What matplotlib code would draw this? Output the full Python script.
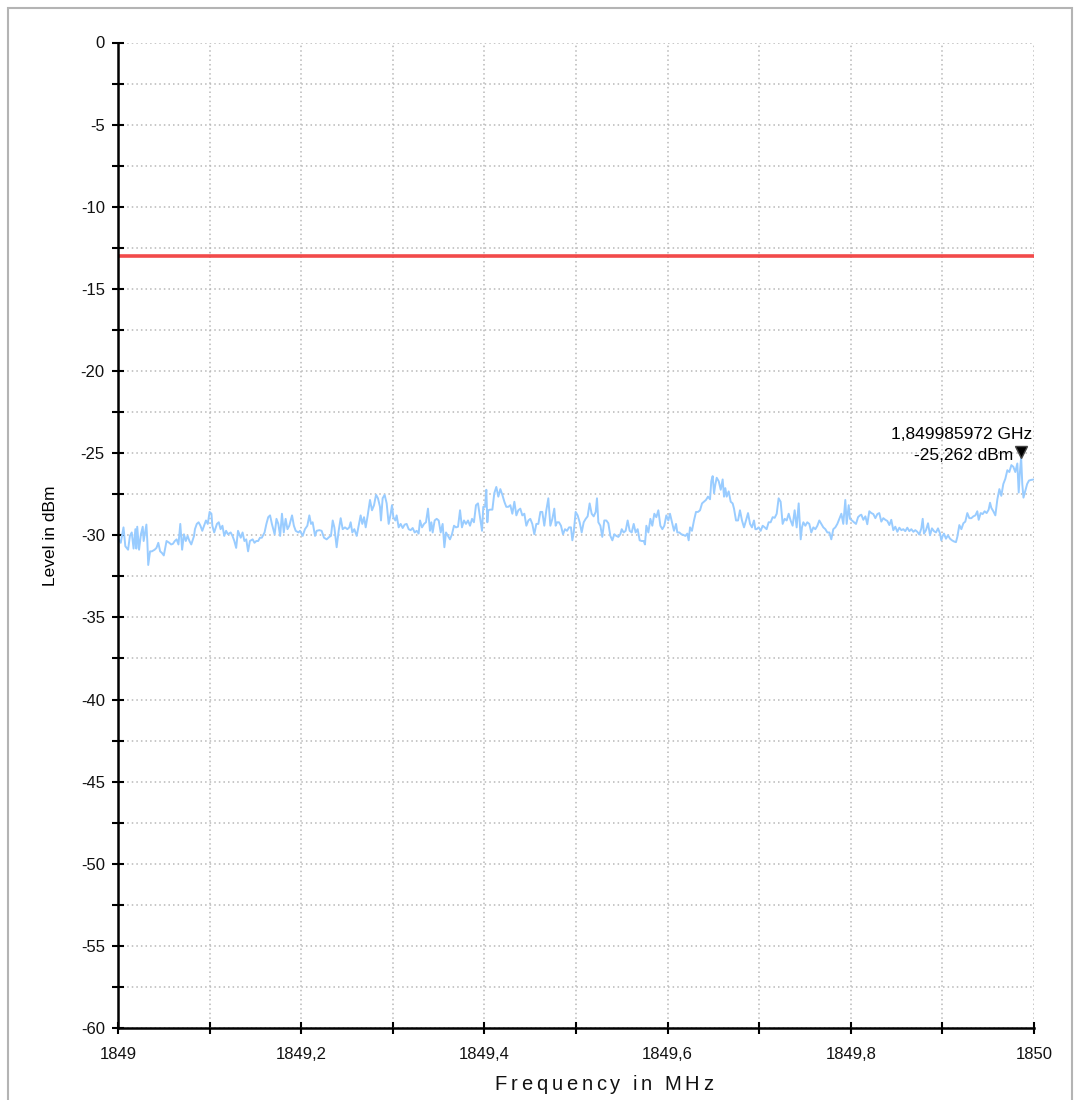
import matplotlib
matplotlib.use("Agg")
import matplotlib.pyplot as plt
from matplotlib.ticker import MultipleLocator, FuncFormatter
from matplotlib.patches import Rectangle
import matplotlib.transforms as mtransforms

plt.rcParams['font.family'] = ['Liberation Sans', 'DejaVu Sans']

# ---------------- data ----------------
f_start = 1849.0  # MHz
freq_offset_mhz = [
    0.000, 0.001, 0.003, 0.006, 0.008, 0.011, 0.013, 0.015, 0.017, 0.019, 0.020,
    0.021, 0.023, 0.025, 0.027, 0.028, 0.031, 0.032, 0.033, 0.035, 0.037,
    0.040, 0.042, 0.044, 0.046, 0.048, 0.050, 0.053, 0.056, 0.058, 0.060,
    0.062, 0.064, 0.066, 0.068, 0.070, 0.072, 0.074, 0.076, 0.078, 0.080,
    0.083, 0.084, 0.086, 0.088, 0.090, 0.092, 0.094, 0.096, 0.098, 0.100,
    0.102, 0.103, 0.105, 0.108, 0.110, 0.112, 0.114, 0.116, 0.118, 0.120,
    0.123, 0.125, 0.127, 0.129, 0.131, 0.134, 0.136, 0.138, 0.140, 0.142,
    0.144, 0.147, 0.149, 0.151, 0.153, 0.155, 0.157, 0.160, 0.162, 0.164,
    0.166, 0.168, 0.171, 0.173, 0.175, 0.177, 0.179, 0.181, 0.183, 0.185,
    0.187, 0.190, 0.192, 0.194, 0.197,
    0.1987, 0.2016, 0.2041, 0.2067, 0.2089, 0.2107, 0.2125, 0.2151, 0.2169,
    0.2198, 0.2223, 0.2249, 0.2278, 0.2307, 0.2325, 0.2344, 0.2362, 0.2387,
    0.2409, 0.2431, 0.2453, 0.2478, 0.2504, 0.2525, 0.2540, 0.2558, 0.2580,
    0.2606, 0.2627, 0.2649, 0.2667, 0.2686, 0.2704, 0.2726, 0.2751, 0.2773,
    0.2795, 0.2817, 0.2838, 0.2860, 0.2871, 0.2889, 0.2911, 0.2933, 0.2955,
    0.2977, 0.2991, 0.3006, 0.3028, 0.3042, 0.3064, 0.3086, 0.3108, 0.3130,
    0.3151, 0.3173, 0.3195, 0.3217, 0.3239, 0.3261, 0.3282, 0.3297, 0.3319,
    0.3341, 0.3362, 0.3384, 0.3406, 0.3421, 0.3435, 0.3457, 0.3479, 0.3501,
    0.3523, 0.3544, 0.3563, 0.3581, 0.3603, 0.3624, 0.3646, 0.3668, 0.3690,
    0.3712, 0.3734, 0.3755, 0.3777, 0.3799, 0.3821, 0.3843, 0.3865, 0.3886,
    0.3908, 0.3930, 0.3952, 0.3974, 0.3988,
    0.4007, 0.4021, 0.4032, 0.4043, 0.4061, 0.4087, 0.4108, 0.4130, 0.4152,
    0.4174, 0.4196, 0.4218, 0.4239, 0.4261, 0.4283, 0.4305, 0.4327, 0.4349,
    0.4370, 0.4392, 0.4414, 0.4436, 0.4458, 0.4480, 0.4501, 0.4523, 0.4545,
    0.4567, 0.4589, 0.4611, 0.4632, 0.4654, 0.4676, 0.4698, 0.4720, 0.4742,
    0.4763, 0.4778, 0.4793, 0.4814, 0.4836, 0.4858, 0.4880, 0.4902, 0.4924,
    0.4945, 0.4960, 0.4975, 0.4996, 0.5018, 0.5040, 0.5062, 0.5084, 0.5106,
    0.5127, 0.5149, 0.5171, 0.5193, 0.5215, 0.5229, 0.5244, 0.5266, 0.5287,
    0.5309, 0.5331, 0.5353, 0.5375, 0.5397, 0.5418, 0.5440, 0.5462, 0.5484,
    0.5499, 0.5520, 0.5542, 0.5564, 0.5586, 0.5608, 0.5630, 0.5651, 0.5673,
    0.5695, 0.5717, 0.5739, 0.5753, 0.5768, 0.5790, 0.5812, 0.5833, 0.5855,
    0.5877, 0.5899, 0.5921, 0.5943, 0.5964, 0.5986, 0.6008,
    0.6026, 0.6048, 0.6070, 0.6092, 0.6106, 0.6128, 0.6150, 0.6172, 0.6194,
    0.6215, 0.6230, 0.6245, 0.6266, 0.6288, 0.6310, 0.6332, 0.6354, 0.6376,
    0.6397, 0.6419, 0.6441, 0.6463, 0.6477, 0.6492, 0.6507, 0.6521, 0.6536,
    0.6558, 0.6580, 0.6601, 0.6616, 0.6630, 0.6645, 0.6667, 0.6689, 0.6710,
    0.6725, 0.6747, 0.6769, 0.6790, 0.6812, 0.6834, 0.6856, 0.6878, 0.6900,
    0.6921, 0.6943, 0.6958, 0.6972, 0.6994, 0.7016, 0.7038, 0.7060, 0.7081,
    0.7103, 0.7125, 0.7147, 0.7169, 0.7191, 0.7212, 0.7234, 0.7256, 0.7278,
    0.7300, 0.7322, 0.7343, 0.7365, 0.7387, 0.7409, 0.7431, 0.7453, 0.7467,
    0.7482, 0.7504, 0.7525, 0.7547, 0.7569, 0.7591, 0.7613, 0.7635, 0.7656,
    0.7678, 0.7700, 0.7722, 0.7744, 0.7766, 0.7787, 0.7809, 0.7831, 0.7853,
    0.7875, 0.7897, 0.7918, 0.7940, 0.7955, 0.7977, 0.7991, 0.8013, 0.8035,
    0.8057, 0.8079, 0.8100,
    0.8115, 0.8137, 0.8159, 0.8180, 0.8202, 0.8224, 0.8246, 0.8268, 0.8290,
    0.8311, 0.8333, 0.8355, 0.8377, 0.8399, 0.8421, 0.8442, 0.8464, 0.8486,
    0.8508, 0.8530, 0.8552, 0.8573, 0.8595, 0.8617, 0.8639, 0.8661, 0.8683,
    0.8704, 0.8726, 0.8748, 0.8770, 0.8785, 0.8799, 0.8821, 0.8843, 0.8865,
    0.8886, 0.8908, 0.8930, 0.8952, 0.8974, 0.8988, 0.9003, 0.9017, 0.9039,
    0.9061, 0.9083, 0.9105, 0.9127, 0.9148, 0.9163, 0.9185, 0.9207, 0.9229,
    0.9250, 0.9272, 0.9294, 0.9316, 0.9338, 0.9360, 0.9381, 0.9396, 0.9418,
    0.9440, 0.9461, 0.9483, 0.9505, 0.9520, 0.9534, 0.9556, 0.9578, 0.9600,
    0.9622, 0.9643, 0.9665, 0.9687, 0.9709, 0.9731, 0.9753, 0.9774, 0.9796,
    0.9818, 0.9833, 0.9845, 0.98597, 0.9872, 0.9885, 0.9905, 0.9925, 0.9945,
    0.9970, 1.0000,
]
level_dbm = [
    -30.20, -30.25, -30.46, -29.52, -30.67, -30.88, -30.04, -29.83, -30.81, -29.63, -30.81,
    -29.48, -30.88, -29.94, -29.48, -30.35, -29.35, -30.35, -31.81, -30.98, -30.98,
    -30.88, -30.77, -30.46, -30.98, -31.08, -31.23, -30.35, -30.46, -30.56, -30.52,
    -30.35, -30.25, -30.56, -29.31, -30.88, -29.94, -30.35, -30.04, -30.35, -30.56,
    -30.04, -29.63, -29.31, -29.21, -29.42, -29.73, -29.42, -29.10, -29.31, -28.58,
    -28.69, -29.42, -29.83, -29.31, -29.21, -29.63, -29.42, -30.04, -29.73, -29.94,
    -29.83, -30.04, -30.35, -30.77, -29.73, -30.15, -29.83, -30.35, -30.25, -30.98,
    -30.35, -30.25, -30.46, -30.35, -30.35, -30.15, -30.15, -29.83, -29.31, -28.90,
    -28.79, -29.31, -29.94, -29.00, -29.31, -30.04, -28.69, -29.83, -29.00, -29.63,
    -29.42, -28.79, -29.42, -29.73, -29.83,
    -29.73, -30.04, -29.63, -29.42, -28.79, -29.31, -29.21, -30.04, -29.73,
    -29.69, -29.73, -30.15, -30.25, -30.10, -30.04, -29.10, -29.52, -30.73,
    -29.73, -28.96, -29.63, -29.52, -29.63, -29.52, -29.21, -29.83, -29.63,
    -30.04, -29.42, -28.79, -29.31, -28.90, -29.52, -28.79, -27.85, -28.48,
    -28.17, -27.54, -27.75, -28.27, -29.10, -27.75, -27.54, -28.06, -29.31,
    -28.69, -28.17, -28.90, -29.10, -28.79, -29.52, -29.31, -29.56, -29.35,
    -29.31, -29.63, -29.69, -29.56, -29.83, -29.73, -29.90, -29.10, -29.52,
    -29.31, -29.21, -28.38, -29.73, -29.21, -29.83, -29.10, -29.00, -29.10,
    -29.83, -29.31, -30.73, -29.83, -30.04, -30.25, -29.94, -29.42, -29.52,
    -29.48, -28.48, -29.52, -29.10, -29.31, -29.10, -29.42, -29.00, -29.21,
    -28.17, -28.06, -28.90, -29.73, -28.27,
    -28.27, -27.23, -29.21, -28.48, -28.44, -28.44, -27.44, -27.06, -27.65,
    -27.19, -27.54, -27.96, -28.27, -28.27, -28.17, -28.69, -27.96, -28.79,
    -28.48, -28.38, -28.79, -28.69, -29.42, -29.10, -29.00, -29.31, -29.94,
    -29.31, -29.31, -28.58, -28.58, -29.42, -28.48, -27.75, -29.42, -29.00,
    -28.38, -29.42, -29.21, -29.21, -29.42, -29.94, -29.63, -29.73, -29.52,
    -29.52, -30.31, -29.83, -28.58, -28.79, -29.21, -29.83, -29.21, -29.00,
    -28.85, -28.06, -28.69, -28.85, -28.58, -27.75, -29.21, -29.42, -30.10,
    -29.10, -29.10, -29.27, -30.04, -30.31, -29.94, -30.04, -30.10, -29.94,
    -29.63, -29.83, -29.73, -29.10, -29.73, -29.83, -29.31, -29.83, -29.63,
    -30.31, -30.35, -30.35, -30.56, -29.42, -29.83, -29.00, -29.42, -28.69,
    -28.90, -28.48, -29.42, -29.63, -29.42, -28.79, -29.10,
    -28.69, -29.21, -29.73, -29.31, -29.83, -29.83, -29.94, -29.98, -30.04,
    -29.90, -30.31, -29.52, -29.73, -29.10, -28.58, -28.58, -28.48, -28.06,
    -27.96, -27.85, -27.65, -27.81, -26.71, -26.40, -27.44, -26.92, -26.50,
    -26.71, -27.23, -26.60, -27.65, -27.13, -27.65, -27.33, -27.96, -28.06,
    -28.38, -29.10, -29.10, -28.48, -29.10, -29.52, -29.10, -28.65, -29.31,
    -29.52, -29.10, -29.63, -29.63, -29.52, -29.73, -29.42, -29.52, -29.63,
    -29.21, -29.21, -28.90, -28.94, -28.69, -27.75, -27.96, -29.31, -29.00,
    -29.10, -28.69, -29.10, -29.42, -28.48, -29.52, -28.06, -30.25, -29.52,
    -29.21, -29.42, -29.21, -29.31, -29.83, -29.52, -29.63, -29.42, -29.10,
    -29.31, -29.52, -29.63, -29.83, -29.83, -30.25, -29.63, -29.52, -29.31,
    -29.00, -28.69, -29.31, -27.85, -29.31, -28.17, -29.00, -29.10, -29.21,
    -29.31, -28.90, -28.79,
    -28.75, -29.06, -28.85, -29.33, -28.54, -28.65, -28.71, -28.96, -28.71,
    -28.65, -29.17, -28.96, -29.06, -29.13, -29.38, -29.06, -29.69, -29.48,
    -29.79, -29.54, -29.69, -29.63, -29.75, -29.54, -29.75, -29.63, -29.79,
    -29.69, -29.79, -29.96, -29.58, -29.00, -29.90, -29.69, -29.27, -30.00,
    -29.58, -29.75, -29.83, -29.58, -29.90, -30.31, -30.04, -29.90, -30.21,
    -30.00, -30.21, -30.31, -30.38, -30.42, -30.10, -29.38, -29.63, -29.27,
    -29.17, -28.65, -28.96, -28.96, -28.85, -28.79, -28.54, -29.06, -28.65,
    -28.71, -28.54, -28.65, -28.44, -28.02, -28.33, -28.54, -28.79, -27.81,
    -27.19, -27.60, -26.88, -26.56, -26.04, -26.15, -25.73, -25.83, -26.15,
    -25.63, -27.40, -26.25, -25.262, -26.88, -27.71, -27.29, -26.88, -26.67,
    -26.63, -26.60,
]
limit_dbm = -13.0
peak_freq_mhz = 1849.985972
peak_level_dbm = -25.262
peak_label_freq = "1,849985972 GHz"
peak_label_level = "-25,262 dBm"
x_label = "Frequency in MHz"
y_label = "Level in dBm"

freq_mhz = [f_start + v for v in freq_offset_mhz]

# ---------------- figure ----------------
W, H = 1074, 1100
fig = plt.figure(figsize=(W / 100, H / 100), dpi=100)
fig.patch.set_facecolor('white')

# outer frame
fig.add_artist(Rectangle((8 / W, -0.01), (1072 - 8) / W, (H - 8) / H + 0.01,
                         transform=fig.transFigure, fill=False,
                         edgecolor='#b4b4b4', linewidth=1.5))

ax_left, ax_right = 118, 1034
ax_top, ax_bottom = 42.5, 1028
ax = fig.add_axes([ax_left / W, 1 - ax_bottom / H,
                   (ax_right - ax_left) / W, (ax_bottom - ax_top) / H])

ax.set_xlim(1849, 1850)
ax.set_ylim(-60, 0)

ax.plot(freq_mhz, level_dbm, color='#99ccff', linewidth=1.4, zorder=3)
ax.axhline(limit_dbm, color='#f24a4a', linewidth=2.6, zorder=4)

# marker
mk_tr = mtransforms.offset_copy(ax.transData, fig=fig, x=0, y=5, units='dots')
ax.plot([peak_freq_mhz], [peak_level_dbm], marker='v', markersize=9,
        color='black', markeredgecolor='#444444', linestyle='none',
        transform=mk_tr, zorder=6)
ax.annotate(peak_label_freq, xy=(peak_freq_mhz, peak_level_dbm),
            xytext=(11, 23), textcoords='offset pixels',
            ha='right', va='center', fontsize=12.5, color='black', zorder=7)
ax.annotate(peak_label_level, xy=(peak_freq_mhz, peak_level_dbm),
            xytext=(-8, 2), textcoords='offset pixels',
            ha='right', va='center', fontsize=12.5, color='black', zorder=7)

# ticks / grid
ax.xaxis.set_major_locator(MultipleLocator(0.2))
ax.xaxis.set_minor_locator(MultipleLocator(0.1))
ax.yaxis.set_major_locator(MultipleLocator(5))
ax.yaxis.set_minor_locator(MultipleLocator(2.5))


def fmt_x(v, pos):
    s = ('%.1f' % v).rstrip('0').rstrip('.')
    return s.replace('.', ',')


ax.xaxis.set_major_formatter(FuncFormatter(fmt_x))
ax.yaxis.set_major_formatter(FuncFormatter(lambda v, p: '%d' % round(v)))

ax.grid(True, which='both', color='#b8b8b8', linestyle=(0, (1, 2)), linewidth=1.1)
ax.set_axisbelow(True)
for s in ['top', 'right']:
    ax.spines[s].set_visible(False)
for s in ['left', 'bottom']:
    ax.spines[s].set_linewidth(1.8)
    ax.spines[s].set_color('black')
    ax.spines[s].set_zorder(8)

ax.tick_params(which='both', direction='inout', length=9, width=1.5,
               color='black', labelsize=12, labelcolor='#111111')
ax.tick_params(axis='x', which='major', pad=9)
ax.tick_params(axis='y', which='major', pad=5)

ax.set_ylabel(y_label, fontsize=12.5)
ax.yaxis.set_label_coords((58 - ax_left) / (ax_right - ax_left), 0.5)

# x label with letter spacing
fig.canvas.draw()
renderer = fig.canvas.get_renderer()
chars = list(x_label)
spacing = 3.8
xl_size = 14.5
widths = []
for ch in chars:
    if ch == ' ':
        widths.append(4.5)
        continue
    t = fig.text(0, 0, ch, fontsize=xl_size)
    bb = t.get_window_extent(renderer)
    widths.append(bb.width)
    t.remove()
total = sum(widths) + spacing * (len(chars) - 1)
cx = 604
x = cx - total / 2
y_pix = H - 1085
for ch, w in zip(chars, widths):
    if ch != ' ':
        fig.text(x / W, y_pix / H, ch, fontsize=xl_size, ha='left', va='center',
                 color='#111111')
    x += w + spacing

fig.savefig('out.png', dpi=100, facecolor='white')
